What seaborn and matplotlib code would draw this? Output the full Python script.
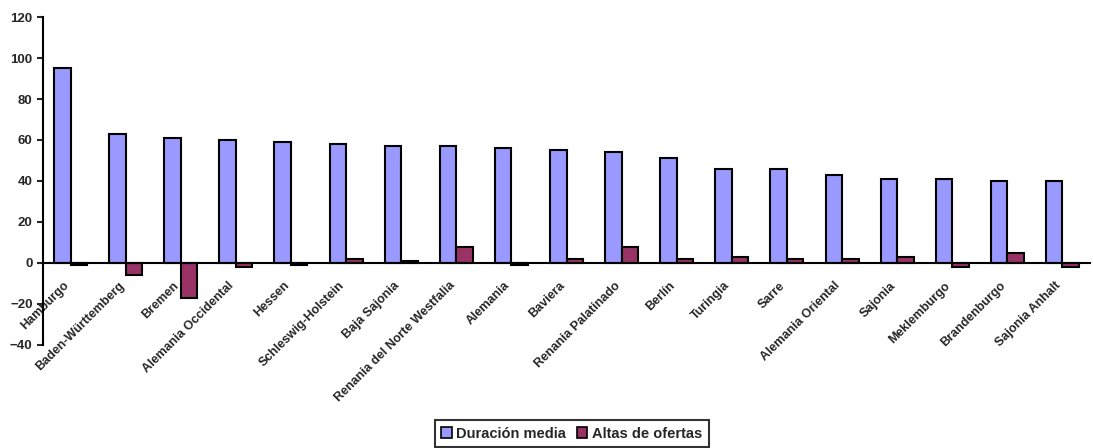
import numpy as np
import pandas as pd
import matplotlib
matplotlib.use("Agg")
import matplotlib.pyplot as plt
import seaborn as sns

regiones = ["Hamburgo", "Baden-Württemberg", "Bremen", "Alemania Occidental",
            "Hessen", "Schleswig-Holstein", "Baja Sajonia",
            "Renania del Norte Westfalia", "Alemania", "Baviera",
            "Renania Palatinado", "Berlín", "Turingia", "Sarre",
            "Alemania Oriental", "Sajonia", "Meklemburgo", "Brandenburgo",
            "Sajonia Anhalt"]
duracion_media = [95, 63, 61, 60, 59, 58, 57, 57, 56, 55, 54, 51, 46, 46, 43, 41, 41, 40, 40]
altas_ofertas = [-1, -6, -17, -2, -1, 2, 1, 8, -1, 2, 8, 2, 3, 2, 2, 3, -2, 5, -2]
series = ["Duración media", "Altas de ofertas"]
colores = ["#9999FF", "#993366"]

df = pd.DataFrame({"region": regiones,
                   series[0]: duracion_media,
                   series[1]: altas_ofertas})
data = pd.melt(df, id_vars=["region"], var_name="serie", value_name="valor")

sns.set_style("white")
plt.rcParams["font.family"] = ["Liberation Sans", "DejaVu Sans"]
plt.rcParams["font.weight"] = "bold"

fig = plt.figure(figsize=(10.93, 4.48), dpi=100)
ax = fig.add_axes([0.0393, 0.23, 0.958, 0.732])

sns.barplot(data=data, x="region", y="valor", hue="serie", palette=colores,
            width=0.6, edgecolor="black", linewidth=1.5, saturation=1,
            ax=ax, legend=False)

ax.set_ylim(-40, 120)
ax.set_xlim(-0.5, len(regiones) - 0.5)
ax.set_yticks(np.arange(-40, 121, 20))
ax.set_xlabel("")
ax.set_ylabel("")

for s in ["top", "right"]:
    ax.spines[s].set_visible(False)
ax.spines["bottom"].set_position(("data", 0))
ax.spines["bottom"].set_linewidth(1.5)
ax.spines["left"].set_linewidth(1.5)
ax.spines["bottom"].set_color("black")
ax.spines["left"].set_color("black")

# ticks between categories, labels at category centres
ax.set_xticks(np.arange(len(regiones)) - 0.14)
ax.set_xticklabels(regiones, rotation=45, ha="right", rotation_mode="anchor",
                   fontsize=9, fontweight="bold")
ax.tick_params(axis="x", which="major", length=0, pad=12)
ax.set_xticks(np.arange(len(regiones)) + 0.5, minor=True)
ax.tick_params(axis="x", which="minor", length=4, width=1.5, direction="out")
ax.tick_params(axis="y", length=4, width=1.5, direction="out", labelsize=9.5, left=True)
for t in ax.get_yticklabels():
    t.set_fontweight("bold")

handles = [plt.Rectangle((0, 0), 1, 1, facecolor=c, edgecolor="black", linewidth=1.2)
           for c in colores]
leg = fig.legend(handles, series, loc="center", bbox_to_anchor=(0.523, 0.032),
                 ncol=2, frameon=True, fancybox=False,
                 handlelength=0.75, handleheight=0.75, handletextpad=0.3,
                 columnspacing=0.7, borderpad=0.45, prop={"weight": "bold", "size": 10.5})
leg.get_frame().set_edgecolor("black")
leg.get_frame().set_linewidth(1.5)

fig.savefig("out.png", dpi=100)
